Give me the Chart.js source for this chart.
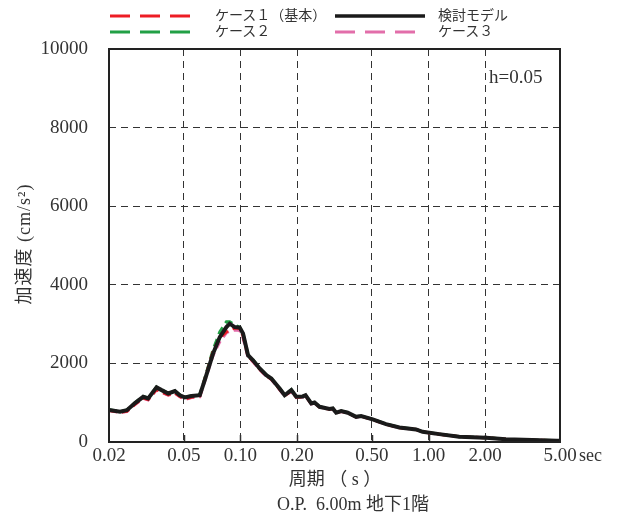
<!DOCTYPE html>
<html>
<head>
<meta charset="utf-8">
<script src="https://cdn.jsdelivr.net/npm/chart.js@4/dist/chart.umd.min.js"></script>
<style>
  body { margin: 0; background: #fff; }
  #wrap { position: relative; width: 621px; height: 516px; }
  .lg { position: absolute; font: 14px "Liberation Serif", "Noto Sans CJK JP", serif; color: #333; line-height: 16px; }
  svg.lg { overflow: visible; }
</style>
</head>
<body>
<div id="wrap">
  <canvas id="chart" width="621" height="516"></canvas>
  <svg class="lg" style="left:110px;top:10px" width="82" height="10"><line x1="0" y1="6" x2="82" y2="6" stroke="#ed1c24" stroke-width="3" stroke-dasharray="20 10"/></svg>
  <div class="lg" style="left:215px;top:8px">ケース１（基本）</div>
  <svg class="lg" style="left:335px;top:10px" width="90" height="10"><line x1="0" y1="6" x2="90" y2="6" stroke="#1a1a1a" stroke-width="3.5"/></svg>
  <div class="lg" style="left:438px;top:8px">検討モデル</div>
  <svg class="lg" style="left:110px;top:26px" width="82" height="10"><line x1="0" y1="6" x2="82" y2="6" stroke="#22a046" stroke-width="3" stroke-dasharray="20 10"/></svg>
  <div class="lg" style="left:215px;top:24px">ケース２</div>
  <svg class="lg" style="left:335px;top:26px" width="82" height="10"><line x1="0" y1="6" x2="82" y2="6" stroke="#e26eaa" stroke-width="3" stroke-dasharray="20 10"/></svg>
  <div class="lg" style="left:438px;top:24px">ケース３</div>
</div>
<script>
// 周期 (s)
const periods = [0.02, 0.0229, 0.0249, 0.0275, 0.0304, 0.0323, 0.0358, 0.0381, 0.0413, 0.0448,
  0.0476, 0.0506, 0.0549, 0.0608, 0.0646, 0.0715, 0.0776, 0.0842, 0.0877, 0.0932,
  0.0991, 0.1032, 0.1097, 0.1166, 0.1265, 0.1373, 0.1459, 0.1615, 0.1717, 0.1863,
  0.198, 0.2147, 0.2218, 0.2378, 0.2476, 0.2633, 0.2974, 0.3097, 0.3228, 0.3431,
  0.372, 0.412, 0.438, 0.505, 0.594, 0.70, 0.858, 0.93, 1.14, 1.456,
  2.017, 2.576, 3.55, 4.82, 5.0];

// 加速度 (cm/s2)
const model = [815, 770, 810, 990, 1150, 1110, 1390, 1320, 1235, 1295,
  1190, 1135, 1170, 1190, 1575, 2250, 2670, 2925, 3010, 2925,
  2910, 2760, 2210, 2080, 1870, 1700, 1615, 1360, 1190, 1320,
  1150, 1160, 1190, 980, 1005, 895, 840, 855, 745, 785,
  745, 640, 660, 575, 455, 370, 320, 260, 200, 135,
  110, 70, 50, 35, 32];
const case1 = [805, 755, 780, 960, 1120, 1080, 1340, 1270, 1200, 1250,
  1160, 1090, 1140, 1170, 1600, 2300, 2650, 2800, 2850, 2900,
  2890, 2700, 2180, 2060, 1850, 1680, 1600, 1340, 1180, 1300,
  1140, 1150, 1180, 970, 995, 890, 835, 850, 740, 780,
  740, 635, 655, 570, 450, 365, 318, 258, 198, 134,
  108, 69, 49, 34, 31];
const case2 = [820, 775, 815, 1000, 1160, 1120, 1400, 1330, 1240, 1300,
  1200, 1140, 1180, 1210, 1620, 2350, 2800, 3060, 3060, 2980,
  2920, 2760, 2220, 2090, 1880, 1710, 1620, 1370, 1200, 1330,
  1160, 1165, 1195, 985, 1010, 900, 845, 858, 748, 788,
  748, 642, 662, 577, 457, 372, 322, 262, 201, 136,
  111, 71, 51, 36, 33];
const case3 = [800, 750, 775, 955, 1110, 1070, 1330, 1260, 1190, 1240,
  1150, 1080, 1130, 1150, 1550, 2200, 2550, 2780, 2820, 2850,
  2840, 2650, 2150, 2040, 1840, 1670, 1590, 1330, 1170, 1290,
  1130, 1145, 1175, 965, 990, 885, 830, 845, 738, 778,
  738, 632, 652, 568, 448, 363, 316, 256, 196, 133,
  107, 68, 48, 33, 30];

const xTicks = [0.02, 0.05, 0.1, 0.2, 0.5, 1, 2, 5];
const yTicks = [0, 2000, 4000, 6000, 8000, 10000];

const serif = '"Liberation Serif", "Noto Sans CJK JP", serif';
const pts = arr => periods.map((p, i) => ({ x: p, y: arr[i] }));

// frame, small bottom ticks and the extra texts
const extras = {
  id: 'extras',
  beforeDatasetsDraw(chart) {
    const { ctx, chartArea: a, scales } = chart;
    ctx.save();
    ctx.strokeStyle = '#333';
    ctx.lineWidth = 1.5;
    xTicks.slice(1, -1).forEach(t => {
      const px = Math.round(scales.x.getPixelForValue(t)) + 0.5;
      ctx.beginPath();
      ctx.moveTo(px, a.bottom);
      ctx.lineTo(px, a.bottom - 7);
      ctx.stroke();
    });
    ctx.restore();
  },
  afterDatasetsDraw(chart) {
    const { ctx, chartArea: a } = chart;
    ctx.save();
    ctx.strokeStyle = '#222';
    ctx.lineWidth = 2;
    ctx.strokeRect(a.left, a.top, a.right - a.left, a.bottom - a.top);

    ctx.fillStyle = '#333';
    ctx.textBaseline = 'middle';
    ctx.font = '19px ' + serif;
    ctx.textAlign = 'left';
    ctx.fillText('h=0.05', 489, 78);
    ctx.font = '18px ' + serif;
    ctx.fillText('sec', 579, 456);

    ctx.textAlign = 'center';
    ctx.font = '18px ' + serif;
    ctx.fillText('周期 （ s ）', 335, 480);
    ctx.fillText('O.P.  6.00m 地下1階', 353, 505);

    ctx.translate(25, 244);
    ctx.rotate(-Math.PI / 2);
    ctx.font = '18px ' + serif;
    ctx.letterSpacing = '1px';
    ctx.fillText('加速度 (cm/s²)', 0, 0);
    ctx.restore();
  }
};

const ctx = document.getElementById('chart').getContext('2d');
new Chart(ctx, {
  type: 'line',
  data: {
    // first dataset is drawn on top
    datasets: [
      { label: '検討モデル', data: pts(model), borderColor: '#1a1a1a', borderWidth: 4 },
      { label: 'ケース１（基本）', data: pts(case1), borderColor: '#ed1c24', borderWidth: 3, borderDash: [8, 5] },
      { label: 'ケース２', data: pts(case2), borderColor: '#22a046', borderWidth: 3, borderDash: [8, 5] },
      { label: 'ケース３', data: pts(case3), borderColor: '#e26eaa', borderWidth: 3, borderDash: [8, 5] }
    ]
  },
  options: {
    responsive: false,
    animation: false,
    events: [],
    elements: { point: { radius: 0 }, line: { tension: 0 } },
    layout: { padding: { top: 49, right: 61, left: 0, bottom: 0 } },
    plugins: { legend: { display: false }, tooltip: { enabled: false } },
    scales: {
      x: {
        type: 'logarithmic',
        min: 0.02,
        max: 5,
        afterFit(scale) { scale.height = 74; },
        afterBuildTicks(scale) { scale.ticks = xTicks.map(v => ({ value: v })); },
        ticks: {
          autoSkip: false,
          maxRotation: 0,
          padding: 3,
          color: '#333',
          font: { family: serif, size: 19 },
          callback: v => Number(v).toFixed(2)
        },
        grid: { color: '#333', lineWidth: 1, drawTicks: false },
        border: { display: false, dash: [7, 5] }
      },
      y: {
        min: 0,
        max: 10000,
        afterFit(scale) { scale.width = 109; },
        afterBuildTicks(scale) { scale.ticks = yTicks.map(v => ({ value: v })); },
        ticks: {
          padding: 21,
          color: '#333',
          font: { family: serif, size: 19 },
          callback: v => String(v)
        },
        grid: { color: '#333', lineWidth: 1, drawTicks: false },
        border: { display: false, dash: [7, 5] }
      }
    }
  },
  plugins: [extras]
});
</script>
</body>
</html>
